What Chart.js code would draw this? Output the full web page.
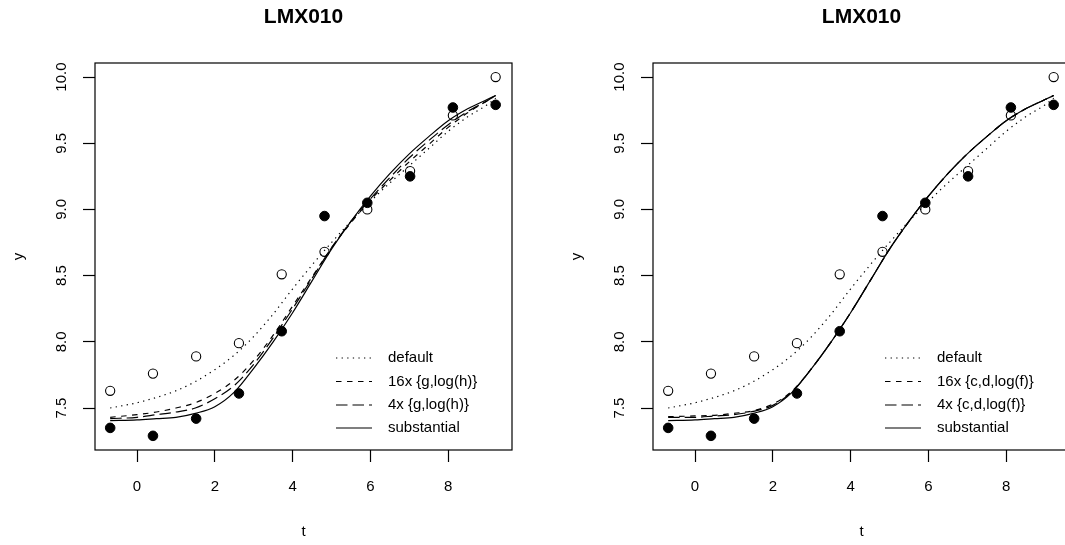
<!DOCTYPE html>
<html>
<head>
<meta charset="utf-8">
<script src="https://cdn.jsdelivr.net/npm/chart.js@4.4.1/dist/chart.umd.min.js"></script>
<style>
  html, body { margin: 0; padding: 0; background: #fff; overflow: hidden; width: 1065px; height: 545px; }
  .panel { position: absolute; top: 0; width: 558px; height: 545px; }
  #left { left: 0; }
  #right { left: 558px; }
</style>
</head>
<body>
<div class="panel" id="left"><canvas id="chartLeft" width="558" height="545"></canvas></div>
<div class="panel" id="right"><canvas id="chartRight" width="558" height="545"></canvas></div>
<script>
// observed data (same in both panels)
const tObs = [-0.69, 0.41, 1.52, 2.62, 3.72, 4.82, 5.92, 7.02, 8.12, 9.22];
const yOpen = [7.63, 7.76, 7.89, 7.99, 8.51, 8.68, 9.00, 9.29, 9.71, 10.00];
const yFilled = [7.35, 7.29, 7.42, 7.61, 8.08, 8.95, 9.05, 9.25, 9.77, 9.79];

const tFit = [-0.69, 0, 0.5, 1, 1.5, 2, 2.5, 3, 3.5, 4, 4.5, 5, 5.5, 6, 6.5, 7, 7.5, 8, 8.5, 9, 9.22];
const fitDefault = [7.50, 7.54, 7.58, 7.63, 7.70, 7.79, 7.90, 8.04, 8.21, 8.40, 8.58, 8.75, 8.91, 9.06, 9.20, 9.33, 9.46, 9.59, 9.70, 9.79, 9.84];
const fitSubstantial = [7.405, 7.41, 7.42, 7.43, 7.46, 7.51, 7.62, 7.80, 8.00, 8.22, 8.46, 8.70, 8.91, 9.10, 9.27, 9.42, 9.55, 9.67, 9.76, 9.83, 9.86];
const fitG16 = [7.43, 7.45, 7.47, 7.50, 7.54, 7.61, 7.71, 7.86, 8.05, 8.27, 8.49, 8.71, 8.90, 9.07, 9.22, 9.36, 9.49, 9.62, 9.73, 9.82, 9.86];
const fitG4 = [7.42, 7.43, 7.45, 7.47, 7.50, 7.57, 7.67, 7.83, 8.03, 8.25, 8.48, 8.71, 8.91, 9.08, 9.24, 9.39, 9.52, 9.64, 9.74, 9.82, 9.86];
const fitCD16 = [7.435, 7.44, 7.445, 7.46, 7.48, 7.53, 7.63, 7.80, 8.00, 8.22, 8.46, 8.70, 8.91, 9.10, 9.27, 9.42, 9.55, 9.67, 9.76, 9.83, 9.86];
const fitCD4 = [7.43, 7.43, 7.44, 7.45, 7.475, 7.52, 7.625, 7.80, 8.00, 8.22, 8.46, 8.70, 8.91, 9.10, 9.27, 9.42, 9.55, 9.67, 9.76, 9.83, 9.86];

const xTicks = [0, 2, 4, 6, 8];
const yTicks = [7.5, 8.0, 8.5, 9.0, 9.5, 10.0];
const chartTitle = 'LMX010';
const legendLeft = ['default', '16x {g,log(h)}', '4x {g,log(h)}', 'substantial'];
const legendRight = ['default', '16x {c,d,log(f)}', '4x {c,d,log(f)}', 'substantial'];

const FONT = "'Liberation Sans', Arial, Helvetica, sans-serif";
const DASHES = [[1.3, 4.3], [5.5, 5.5], [11.5, 5], []];

const toXY = (xs, ys) => xs.map((x, i) => ({ x: x, y: ys[i] }));

function curve(values, dash) {
    return {
        data: toXY(tFit, values),
        showLine: true,
        borderColor: '#000',
        borderWidth: 1.2,
        borderDash: dash,
        pointRadius: 0,
        fill: false,
        cubicInterpolationMode: 'monotone'
    };
}

// draws the R-style frame: box, title, rotated y labels, axis titles, legend
const rFrame = {
    id: 'rFrame',
    afterDraw(chart, args, opts) {
        const ctx = chart.ctx;
        const a = chart.chartArea;
        const yScale = chart.scales.y;
        const cx = (a.left + a.right) / 2;
        ctx.save();
        ctx.strokeStyle = '#000';
        ctx.lineWidth = 1.2;
        ctx.strokeRect(a.left, a.top, a.right - a.left, a.bottom - a.top);

        ctx.fillStyle = '#000';
        ctx.textBaseline = 'middle';
        ctx.textAlign = 'center';
        ctx.font = 'bold 21px ' + FONT;
        ctx.fillText(chartTitle, cx, 17);

        ctx.font = '15px ' + FONT;
        yTicks.forEach(v => {
            const py = yScale.getPixelForValue(v);
            ctx.save();
            ctx.translate(62, py);
            ctx.rotate(-Math.PI / 2);
            ctx.fillText(v.toFixed(1), 0, 0);
            ctx.restore();
        });

        ctx.save();
        ctx.translate(19, (a.top + a.bottom) / 2);
        ctx.rotate(-Math.PI / 2);
        ctx.fillText('y', 0, 0);
        ctx.restore();
        ctx.fillText('t', cx, 532);

        // legend
        const rows = [358, 381.5, 405, 428];
        ctx.textAlign = 'left';
        opts.labels.forEach((label, i) => {
            ctx.beginPath();
            ctx.setLineDash(DASHES[i]);
            ctx.lineWidth = 1.2;
            ctx.moveTo(opts.x, rows[i]);
            ctx.lineTo(opts.x + 36, rows[i]);
            ctx.stroke();
            ctx.setLineDash([]);
            ctx.fillText(label, opts.x + 52, rows[i]);
        });
        ctx.restore();
    }
};

function makePanel(id, fit16, fit4, labels, legendX) {
    return new Chart(document.getElementById(id), {
        type: 'scatter',
        data: {
            datasets: [
                {
                    data: toXY(tObs, yFilled),
                    pointRadius: 4.8,
                    pointHoverRadius: 4.8,
                    backgroundColor: '#000',
                    borderColor: '#000',
                    borderWidth: 1
                },
                {
                    data: toXY(tObs, yOpen),
                    pointRadius: 4.6,
                    pointHoverRadius: 4.6,
                    backgroundColor: 'rgba(0,0,0,0)',
                    borderColor: '#000',
                    borderWidth: 1.1
                },
                curve(fitDefault, DASHES[0]),
                curve(fit16, DASHES[1]),
                curve(fit4, DASHES[2]),
                curve(fitSubstantial, DASHES[3])
            ]
        },
        options: {
            responsive: false,
            animation: false,
            devicePixelRatio: 1,
            layout: { padding: { left: 95, right: 46, top: 63, bottom: 35 } },
            plugins: {
                legend: { display: false },
                tooltip: { enabled: false },
                title: { display: false },
                rFrame: { labels: labels, x: legendX }
            },
            scales: {
                x: {
                    type: 'linear',
                    min: -1.08,
                    max: 9.64,
                    afterBuildTicks: s => { s.ticks = xTicks.map(v => ({ value: v })); },
                    afterFit: s => { s.height = 60; },
                    grid: { drawOnChartArea: false, drawTicks: true, tickLength: 12, tickColor: '#000', tickWidth: 1.2 },
                    border: { display: false },
                    ticks: { color: '#000', font: { family: FONT, size: 15 }, padding: 16, maxRotation: 0, autoSkip: false }
                },
                y: {
                    type: 'linear',
                    min: 7.183,
                    max: 10.106,
                    afterBuildTicks: s => { s.ticks = yTicks.map(v => ({ value: v })); },
                    afterFit: s => { s.width = 0; },
                    grid: { drawOnChartArea: false, drawTicks: true, tickLength: 12, tickColor: '#000', tickWidth: 1.2 },
                    border: { display: false },
                    ticks: { display: false }
                }
            }
        },
        plugins: [rFrame]
    });
}

makePanel('chartLeft', fitG16, fitG4, legendLeft, 336);
makePanel('chartRight', fitCD16, fitCD4, legendRight, 327);
</script>
</body>
</html>
